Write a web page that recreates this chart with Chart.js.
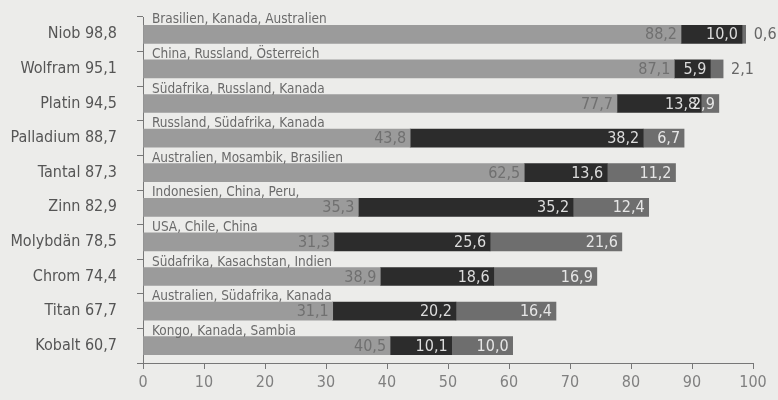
<!DOCTYPE html>
<html>
<head>
<meta charset="utf-8">
<script src="https://cdn.jsdelivr.net/npm/chart.js@4"></script>
<style>
  body { margin: 0; background: #ececea; }
  #wrap { width: 778px; height: 400px; }
</style>
</head>
<body>
<div id="wrap"><canvas id="plot"></canvas></div>
<script>
// Rohstoffe und Anteil der drei größten Förderländer (in %)
const rohstoffe = ["Niob", "Wolfram", "Platin", "Palladium", "Tantal", "Zinn", "Molybdän", "Chrom", "Titan", "Kobalt"];
const gesamt = ["98,8", "95,1", "94,5", "88,7", "87,3", "82,9", "78,5", "74,4", "67,7", "60,7"];
const laender = [
  "Brasilien, Kanada, Australien",
  "China, Russland, Österreich",
  "Südafrika, Russland, Kanada",
  "Russland, Südafrika, Kanada",
  "Australien, Mosambik, Brasilien",
  "Indonesien, China, Peru,",
  "USA, Chile, China",
  "Südafrika, Kasachstan, Indien",
  "Australien, Südafrika, Kanada",
  "Kongo, Kanada, Sambia"
];
const land1 = [88.2, 87.1, 77.7, 43.8, 62.5, 35.3, 31.3, 38.9, 31.1, 40.5];
const land2 = [10.0, 5.9, 13.8, 38.2, 13.6, 35.2, 25.6, 18.6, 20.2, 10.1];
const land3 = [0.6, 2.1, 2.9, 6.7, 11.2, 12.4, 21.6, 16.9, 16.4, 10.0];

const schrift = "'DejaVu Sans Condensed', sans-serif";

let fmt = v => v.toFixed(1).replace(".", ",");

// Werte in die Balken schreiben, Länder darüber
let beschriftung = {
  id: "beschriftung",
  afterDatasetsDraw(chart) {
    let ctx = chart.ctx;
    ctx.save();
    ctx.font = "16px " + schrift;
    ctx.textBaseline = "middle";
    chart.data.datasets.forEach((ds, di) => {
      let meta = chart.getDatasetMeta(di);
      meta.data.forEach((bar, i) => {
        let v = ds.data[i];
        if (v < 2.5) {
          ctx.textAlign = "left";
          ctx.fillStyle = "#666";
          ctx.fillText(fmt(v), bar.x + 8, bar.y + 1);
        } else {
          ctx.textAlign = "right";
          ctx.fillStyle = ds.textColor;
          ctx.fillText(fmt(v), bar.x - 4, bar.y + 1);
        }
      });
    });
    let meta0 = chart.getDatasetMeta(0);
    ctx.font = "13.5px " + schrift;
    ctx.textAlign = "left";
    ctx.textBaseline = "alphabetic";
    ctx.fillStyle = "#6a6a6a";
    meta0.data.forEach((bar, i) => {
      ctx.fillText(laender[i], chart.chartArea.left + 9, bar.y - bar.height / 2 - 2);
    });
    ctx.restore();
  }
};

let config = {
  type: "bar",
  data: {
    labels: rohstoffe.map((r, i) => r + " " + gesamt[i]),
    datasets: [
      { label: "Land 1", data: land1, backgroundColor: "#9b9b9b", textColor: "#707070" },
      { label: "Land 2", data: land2, backgroundColor: "#2c2c2c", textColor: "#dcdcdc" },
      { label: "Land 3", data: land3, backgroundColor: "#6e6e6e", textColor: "#e6e6e6" }
    ]
  },
  options: {
    indexAxis: "y",
    responsive: true,
    maintainAspectRatio: false,
    animation: false,
    layout: { padding: { top: 17, right: 25, left: 0, bottom: 0 } },
    datasets: { bar: { barThickness: 18, borderWidth: 0 } },
    plugins: { legend: { display: false }, tooltip: { enabled: false } },
    scales: {
      x: {
        stacked: true,
        min: 0,
        max: 100,
        ticks: { stepSize: 10, color: "#808080", font: { family: schrift, size: 16 }, padding: 4 },
        grid: { drawOnChartArea: false, tickLength: 6, color: "#777" },
        border: { color: "#777", width: 1 },
        afterFit: s => { s.height = 37; }
      },
      y: {
        stacked: true,
        ticks: { color: "#555", font: { family: schrift, size: 16 }, padding: 20 },
        grid: { drawOnChartArea: false, tickLength: 6, color: "#777", offset: true },
        border: { color: "#777", width: 1 },
        afterFit: s => { s.width = 143; s.paddingTop = 0; s.paddingBottom = 0; }
      }
    }
  },
  plugins: [beschriftung]
};

new Chart(document.getElementById("plot"), config);
</script>
</body>
</html>
